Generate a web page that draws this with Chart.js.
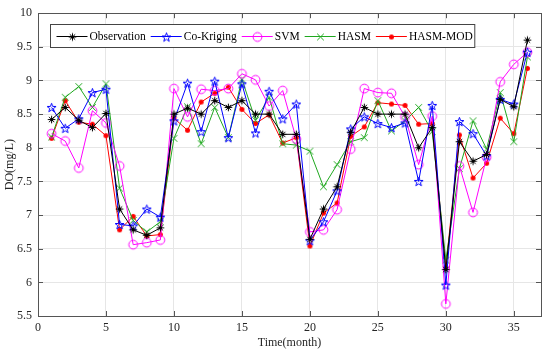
<!DOCTYPE html>
<html>
<head>
<meta charset="utf-8">
<script src="https://cdn.jsdelivr.net/npm/chart.js@4.4.0/dist/chart.umd.min.js"></script>
<style>
html, body { margin: 0; padding: 0; background: #fff; }
#wrap { width: 550px; height: 353px; }
</style>
</head>
<body>
<div id="wrap"><canvas id="c"></canvas></div>
<script>
// months 1..36
const months = [1, 2, 3, 4, 5, 6, 7, 8, 9, 10, 11, 12, 13, 14, 15, 16, 17, 18,
    19, 20, 21, 22, 23, 24, 25, 26, 27, 28, 29, 30, 31, 32, 33, 34, 35, 36];
const xTicks = [0, 5, 10, 15, 20, 25, 30, 35];

const observation = [8.42, 8.60, 8.41, 8.30, 8.51, 7.09, 6.78, 6.70, 6.81, 8.50, 8.59, 8.50,
    8.70, 8.60, 8.70, 8.50, 8.50, 8.20, 8.20, 6.64, 7.09, 7.42, 8.23, 8.60,
    8.50, 8.50, 8.50, 8.00, 8.30, 6.19, 8.09, 7.80, 7.90, 8.72, 8.61, 9.60];
const coKriging = [8.60, 8.29, 8.43, 8.82, 8.87, 6.86, 6.84, 7.09, 6.97, 8.40, 8.96, 8.24,
    8.99, 8.15, 8.95, 8.22, 8.84, 8.43, 8.65, 6.62, 6.90, 7.36, 8.28, 8.46,
    8.36, 8.30, 8.37, 7.50, 8.63, 5.96, 8.39, 8.21, 7.88, 8.72, 8.65, 9.42];
const svm = [8.21, 8.10, 7.70, 8.55, 8.37, 7.73, 6.56, 6.59, 6.63, 8.88, 8.46, 8.87,
    8.85, 8.88, 9.10, 9.01, 8.62, 8.85, 8.13, 6.75, 6.78, 7.08, 7.98, 8.88,
    8.82, 8.81, 8.46, 7.75, 8.47, 5.68, 7.73, 7.04, 7.86, 8.98, 9.24, 9.42];
const hasm = [8.16, 8.75, 8.91, 8.60, 8.95, 7.40, 6.92, 6.75, 6.90, 8.14, 8.61, 8.06,
    8.60, 8.15, 9.02, 8.41, 8.75, 8.06, 8.04, 7.95, 7.42, 7.75, 8.09, 8.15,
    8.70, 8.25, 8.40, 8.60, 8.24, 6.33, 7.69, 8.40, 7.98, 8.82, 8.09, 9.35];
const hasmMod = [8.14, 8.70, 8.38, 8.35, 8.18, 6.78, 6.98, 6.69, 6.71, 8.44, 8.26, 8.68,
    8.81, 8.90, 8.57, 8.36, 8.49, 8.07, 8.15, 6.54, 7.03, 7.18, 8.17, 8.31,
    8.67, 8.65, 8.63, 8.35, 8.36, 6.22, 8.19, 7.55, 7.77, 8.44, 8.21, 9.18];

const FONT = '"Liberation Serif", "Times New Roman", serif';
const GREEN = '#1fa81f';

// marker canvases (MATLAB-style symbols)
function marker(draw) {
    const c = document.createElement('canvas');
    c.width = 13; c.height = 13;
    const g = c.getContext('2d');
    g.lineWidth = 1;
    draw(g, 6.5, 6.5);
    return c;
}
const asterisk = marker((g, x, y) => {
    g.strokeStyle = '#000';
    g.beginPath();
    for (let a = 0; a < 4; a++) {
        const t = a * Math.PI / 4, r = 3.8;
        g.moveTo(x - r * Math.cos(t), y - r * Math.sin(t));
        g.lineTo(x + r * Math.cos(t), y + r * Math.sin(t));
    }
    g.stroke();
});
const pentagram = marker((g, x, y) => {
    g.strokeStyle = '#0000ff';
    g.beginPath();
    for (let i = 0; i < 10; i++) {
        const r = i % 2 ? 1.9 : 4.7;
        const t = -Math.PI / 2 + i * Math.PI / 5;
        const px = x + r * Math.cos(t), py = y + 0.5 + r * Math.sin(t);
        i ? g.lineTo(px, py) : g.moveTo(px, py);
    }
    g.closePath();
    g.stroke();
});
const circle = marker((g, x, y) => {
    g.strokeStyle = '#ff00ff';
    g.beginPath();
    g.arc(x, y, 4.4, 0, Math.PI * 2);
    g.stroke();
});
const xmark = marker((g, x, y) => {
    g.strokeStyle = GREEN;
    g.beginPath();
    g.moveTo(x - 3.3, y - 3.3); g.lineTo(x + 3.3, y + 3.3);
    g.moveTo(x - 3.3, y + 3.3); g.lineTo(x + 3.3, y - 3.3);
    g.stroke();
});
const dot = marker((g, x, y) => {
    g.fillStyle = '#ff0000';
    g.beginPath();
    g.arc(x, y, 2.5, 0, Math.PI * 2);
    g.fill();
});

function series(label, values, color, style) {
    return {
        label: label,
        data: months.map((m, i) => ({ x: m, y: values[i] })),
        borderColor: color,
        backgroundColor: color,
        borderWidth: 1,
        pointStyle: style,
        pointRadius: 4,
        tension: 0,
        fill: false,
    };
}

// frame with inward ticks + boxed legend inside the plot
const matlabAxes = {
    id: 'matlabAxes',
    beforeDatasetsDraw(chart) {
        const { ctx, chartArea: a, scales } = chart;
        ctx.save();
        ctx.strokeStyle = '#555';
        ctx.lineWidth = 1;
        ctx.beginPath();
        scales.x.ticks.forEach(t => {
            const px = Math.round(scales.x.getPixelForValue(t.value)) + 0.5;
            ctx.moveTo(px, a.bottom); ctx.lineTo(px, a.bottom - 5);
            ctx.moveTo(px, a.top); ctx.lineTo(px, a.top + 5);
        });
        scales.y.ticks.forEach(t => {
            const py = Math.round(scales.y.getPixelForValue(t.value)) + 0.5;
            ctx.moveTo(a.left, py); ctx.lineTo(a.left + 5, py);
            ctx.moveTo(a.right, py); ctx.lineTo(a.right - 5, py);
        });
        ctx.stroke();
        ctx.strokeRect(Math.round(a.left) + 0.5, Math.round(a.top) + 0.5,
            Math.round(a.right - a.left), Math.round(a.bottom - a.top));
        ctx.restore();
    },
    afterDatasetsDraw(chart) {
        const { ctx, chartArea: a } = chart;
        ctx.save();
        ctx.font = '11.5px ' + FONT;
        const items = chart.data.datasets;
        const lineLen = 31;
        let w = 6;
        items.forEach(d => { w += lineLen + 2 + ctx.measureText(d.label).width + 5; });
        const bx = a.left + 12.5, by = 24.5, bh = 23;
        ctx.fillStyle = '#fff';
        ctx.fillRect(bx, by, w - 3, bh);
        ctx.strokeStyle = '#444';
        ctx.lineWidth = 1;
        ctx.strokeRect(bx, by, w - 3, bh);
        let x = bx + 6;
        const cy = by + bh / 2;
        items.forEach(d => {
            ctx.strokeStyle = d.borderColor;
            ctx.beginPath();
            ctx.moveTo(x, Math.round(cy) + 0.5);
            ctx.lineTo(x + lineLen, Math.round(cy) + 0.5);
            ctx.stroke();
            const img = d.pointStyle;
            ctx.drawImage(img, Math.round(x + lineLen / 2 - img.width / 2), Math.round(cy - img.height / 2) + 0.5);
            ctx.fillStyle = '#000';
            ctx.textBaseline = 'middle';
            ctx.fillText(d.label, x + lineLen + 2, cy + 0.5);
            x += lineLen + 2 + ctx.measureText(d.label).width + 5;
        });
        ctx.restore();
    },
};

new Chart(document.getElementById('c'), {
    type: 'line',
    data: {
        datasets: [
            series('Observation', observation, '#000000', asterisk),
            series('Co-Kriging', coKriging, '#0000ff', pentagram),
            series('SVM', svm, '#ff00ff', circle),
            series('HASM', hasm, GREEN, xmark),
            series('HASM-MOD', hasmMod, '#ff0000', dot),
        ],
    },
    options: {
        responsive: true,
        maintainAspectRatio: false,
        animation: false,
        events: [],
        layout: { padding: { top: 13, right: 9, left: 0, bottom: 0 } },
        plugins: {
            legend: { display: false },
            tooltip: { enabled: false },
        },
        scales: {
            x: {
                type: 'linear',
                min: 0,
                max: 37,
                afterBuildTicks: (s) => { s.ticks = xTicks.map(v => ({ value: v })); },
                afterFit: (s) => { s.height = 37; },
                grid: { color: '#e6e6e6', drawTicks: false },
                border: { display: false },
                ticks: { padding: 5, color: '#262626', font: { family: FONT, size: 12 }, maxRotation: 0 },
                title: { display: true, text: 'Time(month)', color: '#262626', font: { family: FONT, size: 12 }, padding: { top: 0, bottom: 3 } },
            },
            y: {
                min: 5.5,
                max: 10,
                afterFit: (s) => { s.width = 38; },
                grid: { color: '#e6e6e6', drawTicks: false },
                border: { display: false },
                ticks: {
                    stepSize: 0.5, padding: 6, color: '#262626', font: { family: FONT, size: 12 },
                    callback: (v) => String(Number(v.toFixed(1))),
                },
                title: { display: true, text: 'DO(mg/L)', color: '#262626', font: { family: FONT, size: 12 }, padding: { top: 3, bottom: 0 } },
            },
        },
    },
    plugins: [matlabAxes],
});
</script>
</body>
</html>
